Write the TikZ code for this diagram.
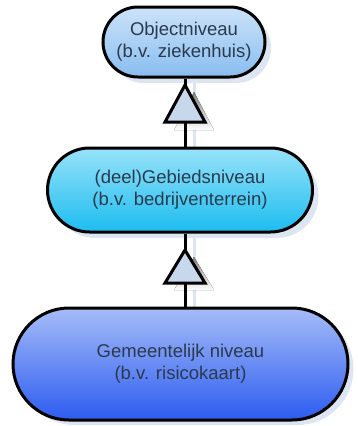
\documentclass[tikz,border=0pt]{standalone}
\usepackage{fontspec}
\setmainfont{Liberation Sans}
\definecolor{txt}{HTML}{2A3A4C}
\definecolor{shade}{HTML}{DCE5F1}
\definecolor{trifill}{HTML}{C8D8EC}
\definecolor{objtop}{HTML}{CCE3F9}
\definecolor{objbot}{HTML}{88BDF0}
\definecolor{gebtop}{HTML}{98E2F9}
\definecolor{gebbot}{HTML}{1CBDF0}
\definecolor{gemtop}{HTML}{A6BCF8}
\definecolor{gembot}{HTML}{2C5CF0}
\tikzset{
  level/.style={draw=black, line width=3pt, inner sep=0pt, align=center,
    text=txt, font=\fontsize{18.5}{22}\selectfont},
  levelshadow/.style={fill=shade, draw=none, inner sep=0pt},
  link/.style={line width=3pt, draw=black},
  linkshadow/.style={line width=3pt, draw=shade},
  inherit/.style={draw=black, line width=3pt, fill=trifill, line join=miter}
}
\begin{document}
\begin{tikzpicture}[x=1pt, y=-1pt]
  \useasboundingbox (0,0) rectangle (358,426);
  % drop shadows of the three levels and the links
  \node[levelshadow, rounded corners=35pt, minimum width=162pt, minimum height=70pt] at (190,48) {};
  \node[levelshadow, rounded corners=42pt, minimum width=265pt, minimum height=84pt] at (186,196) {};
  \node[levelshadow, rounded corners=56pt, minimum width=335pt, minimum height=112pt] at (186,369) {};
  \draw[linkshadow] (194,78) -- (194,314);
  \fill[shade] (194,92) -- (214,130) -- (174,130) -- cycle;
  \fill[shade] (194,257) -- (214,290) -- (174,290) -- cycle;
  % levels
  \node[level, rounded corners=35pt, minimum width=162pt, minimum height=70pt,
        top color=objtop, bottom color=objbot] (obj) at (184,42)
        {Objectniveau\\(b.v. ziekenhuis)};
  \node[level, rounded corners=42pt, minimum width=265pt, minimum height=84pt,
        top color=gebtop, bottom color=gebbot] (geb) at (180,190)
        {(deel)Gebiedsniveau\\(b.v. bedrijventerrein)};
  \node[level, rounded corners=56pt, minimum width=335pt, minimum height=112pt,
        top color=gemtop, bottom color=gembot] (gem) at (180.5,364)
        {Gemeentelijk niveau\\(b.v. risicokaart)};
  % generalisation links with open triangle heads
  \coordinate (tipA) at (185,85);
  \coordinate (tipB) at (185,250);
  \draw[link] (geb.north -| tipA) -- (obj.south -| tipA);
  \draw[link] (gem.north -| tipB) -- (geb.south -| tipB);
  \draw[inherit] (tipA) -- ++(20,37) -- ++(-40,0) -- cycle;
  \draw[inherit] (tipB) -- ++(20,33) -- ++(-40,0) -- cycle;
\end{tikzpicture}
\end{document}
